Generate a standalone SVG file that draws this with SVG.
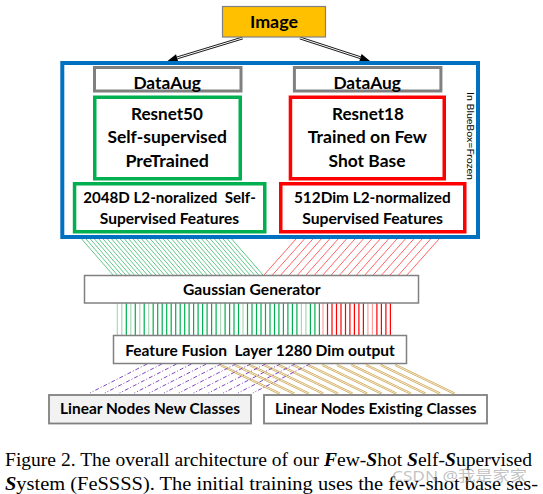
<svg xmlns="http://www.w3.org/2000/svg" width="543" height="494" viewBox="0 0 543 494">
<style>
.t{font-family:Lato,"Liberation Sans",sans-serif;font-weight:bold;fill:#000;text-anchor:middle}
.big{font-size:17px}
.mid{font-size:15px}
.gbox{fill:#fff;stroke:#808080;stroke-width:3}
.thin{fill:#fff;stroke:#808080;stroke-width:1.5}
.cap{font-family:"Liberation Serif","Times New Roman",serif;font-size:18.7px;fill:#000}
.bi{font-weight:bold;font-style:italic}
.gh{fill:none;stroke:#2fb562;stroke-width:0.9;stroke-opacity:0.85}
.rh{fill:none;stroke:#ff3030;stroke-width:1;stroke-opacity:0.75}
.gv{stroke:#00B050;stroke-width:1.2}
.gl{stroke:#A8DAB5;stroke-width:1.2}
.rv{stroke:#FF0000;stroke-width:1.2}
.rl{stroke:#FFA0A0;stroke-width:1.2}
.pu{fill:none;stroke:#7F45C0;stroke-width:1;stroke-dasharray:4 2 1 2}
.tan{fill:none;stroke:#C9A043;stroke-width:0.8}
.ar{stroke:#000;stroke-width:0.9}
</style>
<g id="connectors">
  <line class="ar" x1="242.9" y1="38.9" x2="177.4" y2="58.8"/>
  <line class="ar" x1="242.3" y1="37.1" x2="176.8" y2="57.0"/>
  <polygon points="167.5,61 178.3,61.8 176,54.2" fill="#000"/>
  <line class="ar" x1="299.7" y1="38.9" x2="360.2" y2="58.6"/>
  <line class="ar" x1="300.3" y1="37.1" x2="360.8" y2="56.8"/>
  <polygon points="370,61 359.2,61.6 361.6,54" fill="#000"/>
  <path class="gh" d="M81.7,239l31.3,36M86,239l31.3,36M90.3,239l31.3,36M94.6,239l31.3,36M98.8,239l31.3,36M103.1,239l31.3,36M107.4,239l31.3,36M111.7,239l31.3,36M116,239l31.3,36M120.3,239l31.3,36M124.6,239l31.3,36M128.8,239l31.3,36M133.1,239l31.3,36M137.4,239l31.3,36M141.7,239l31.3,36M146,239l31.3,36M150.3,239l31.3,36M154.6,239l31.3,36M158.8,239l31.3,36M163.1,239l31.3,36M167.4,239l31.3,36M171.7,239l31.3,36M176,239l31.3,36M180.3,239l31.3,36M184.6,239l31.3,36M188.8,239l31.3,36M193.1,239l31.3,36M197.4,239l31.3,36M201.7,239l31.3,36M206,239l31.3,36M210.3,239l31.3,36M214.6,239l31.3,36M218.8,239l31.3,36M223.1,239l31.3,36M227.4,239l31.3,36M231.7,239l31.3,36"/>
  <path class="rh" d="M296,239l-32,36M304.4,239l-32,36M312.8,239l-32,36M321.2,239l-32,36M329.6,239l-32,36M338.1,239l-32,36M346.5,239l-32,36M354.9,239l-32,36M363.3,239l-32,36M371.7,239l-32,36M380.1,239l-32,36M388.5,239l-32,36M396.9,239l-32,36M405.3,239l-32,36M413.7,239l-32,36M422.1,239l-32,36M430.6,239l-32,36M439,239l-32,36"/>
  <path class="gl" d="M117.3,303v32M121.8,303v32M130.8,303v32M139.8,303v32M148.7,303v32M220.6,303v32M243,303v32M301.4,303v32M305.9,303v32"/>
  <path class="gv" d="M126.3,303v32M135.3,303v32M144.2,303v32M153.2,303v32M157.7,303v32M162.2,303v32M166.7,303v32M171.2,303v32M175.7,303v32M180.2,303v32M184.7,303v32M189.1,303v32M193.6,303v32M198.1,303v32M202.6,303v32M207.1,303v32M211.6,303v32M216.1,303v32M225.1,303v32M229.6,303v32M234,303v32M238.5,303v32M247.5,303v32M252,303v32M256.5,303v32M261,303v32M265.5,303v32M270,303v32M274.5,303v32M278.9,303v32M283.4,303v32M287.9,303v32M292.4,303v32M296.9,303v32M310.4,303v32M314.9,303v32M319.4,303v32"/>
  <path class="rl" d="M323,303v32M367.9,303v32M372.4,303v32"/>
  <path class="rv" d="M327.5,303v32M332,303v32M336.5,303v32M341,303v32M345.5,303v32M349.9,303v32M354.4,303v32M358.9,303v32M363.4,303v32M376.9,303v32M381.4,303v32M385.9,303v32M390.4,303v32"/>
  <path class="tan" d="M220,364l60,29M234.6,364l60,29M249.2,364l60,29M263.7,364l60,29M278.3,364l60,29M292.9,364l60,29M307.5,364l60,29M322.1,364l60,29M336.7,364l60,29M351.2,364l60,29M365.8,364l60,29M380.4,364l60,29M395,364l60,29"/>
  <path class="tan" d="M220,365.6l60,29M234.6,365.6l60,29M249.2,365.6l60,29M263.7,365.6l60,29M278.3,365.6l60,29M292.9,365.6l60,29M307.5,365.6l60,29M322.1,365.6l60,29M336.7,365.6l60,29M351.2,365.6l60,29M365.8,365.6l60,29M380.4,365.6l60,29M395,365.6l60,29"/>
  <path class="pu" d="M147,364l-57,29M161.8,364l-57,29M176.6,364l-57,29M191.4,364l-57,29M206.2,364l-57,29M221,364l-57,29M235.8,364l-57,29M250.6,364l-57,29M265.4,364l-57,29M280.2,364l-57,29M295,364l-57,29M309.8,364l-57,29"/>
</g>
<g id="image">
  <rect x="222.5" y="6.5" width="103" height="30.5" fill="#FFC000" stroke="#808080" stroke-width="1.2"/>
  <text class="t big" x="274" y="28" textLength="48" lengthAdjust="spacingAndGlyphs">Image</text>
</g>
<g id="frozen-box">
  <rect x="62.3" y="63" width="415.7" height="174" fill="none" stroke="#0070C0" stroke-width="4"/>
  <text x="466.5" y="92" transform="rotate(90 466.5 92)" font-family="Lato,'Liberation Sans',sans-serif" font-size="10.3" fill="#000" textLength="88" lengthAdjust="spacingAndGlyphs">In BlueBox=Frozen</text>
</g>
<g id="dataaug-left">
  <rect class="gbox" x="94.5" y="67.5" width="146.5" height="23.5"/>
  <text class="t big" x="167.2" y="88.5" textLength="67.6" lengthAdjust="spacingAndGlyphs">DataAug</text>
</g>
<g id="dataaug-right">
  <rect class="gbox" x="294.4" y="67.5" width="146.5" height="23.5"/>
  <text class="t big" x="367.2" y="88.5" textLength="67.6" lengthAdjust="spacingAndGlyphs">DataAug</text>
</g>
<g id="resnet50">
  <rect x="94.75" y="97.25" width="145.5" height="81.5" fill="#fff" stroke="#00B050" stroke-width="3.5"/>
  <text class="t big" x="167" y="119.5" textLength="71.8" lengthAdjust="spacingAndGlyphs">Resnet50</text>
  <text class="t big" x="167.2" y="143" textLength="119.5" lengthAdjust="spacingAndGlyphs">Self-supervised</text>
  <text class="t big" x="167.2" y="166.5" textLength="83.5" lengthAdjust="spacingAndGlyphs">PreTrained</text>
</g>
<g id="resnet18">
  <rect x="290.45" y="97.25" width="153.8" height="81.5" fill="#fff" stroke="#FF0000" stroke-width="3.5"/>
  <text class="t big" x="368" y="119.5" textLength="71.8" lengthAdjust="spacingAndGlyphs">Resnet18</text>
  <text class="t big" x="367.4" y="143" textLength="119.2" lengthAdjust="spacingAndGlyphs">Trained on Few</text>
  <text class="t big" x="367" y="166.5" textLength="77" lengthAdjust="spacingAndGlyphs">Shot Base</text>
</g>
<g id="feat-ssl">
  <rect x="74.55" y="183.75" width="190.2" height="48" fill="#fff" stroke="#00B050" stroke-width="3.5"/>
  <text class="t mid" x="169.5" y="203" textLength="172.6" lengthAdjust="spacingAndGlyphs">2048D L2-noralized&#160; Self-</text>
  <text class="t mid" x="169.5" y="223.5" textLength="139.4" lengthAdjust="spacingAndGlyphs">Supervised Features</text>
</g>
<g id="feat-sup">
  <rect x="280.75" y="183.75" width="184" height="48" fill="#fff" stroke="#FF0000" stroke-width="3.5"/>
  <text class="t mid" x="372.3" y="203" textLength="156.7" lengthAdjust="spacingAndGlyphs">512Dim L2-normalized</text>
  <text class="t mid" x="372.6" y="223.5" textLength="140.7" lengthAdjust="spacingAndGlyphs">Supervised Features</text>
</g>
<g id="gaussian">
  <rect class="thin" x="84.5" y="275.5" width="334" height="27.5"/>
  <text class="t mid" x="251.8" y="294.5" textLength="137.6" lengthAdjust="spacingAndGlyphs">Gaussian Generator</text>
</g>
<g id="fusion">
  <rect class="thin" x="113.5" y="335.5" width="293" height="28"/>
  <text class="t mid" x="260" y="355.5" textLength="269.6" lengthAdjust="spacingAndGlyphs">Feature Fusion&#160; Layer 1280 Dim output</text>
</g>
<g id="linear-new">
  <rect x="49" y="395" width="202" height="28.5" fill="#F2F2F2" stroke="#808080" stroke-width="1.8"/>
  <text class="t mid" x="150" y="414" textLength="180" lengthAdjust="spacingAndGlyphs">Linear Nodes New Classes</text>
</g>
<g id="linear-existing">
  <rect x="264" y="395" width="223" height="28.5" fill="#fff" stroke="#808080" stroke-width="1.8"/>
  <text class="t mid" x="375.8" y="414" textLength="201.7" lengthAdjust="spacingAndGlyphs">Linear Nodes Existing Classes</text>
</g>
<g id="caption">
  <text class="cap" x="5" y="466" textLength="527" lengthAdjust="spacingAndGlyphs">Figure 2. The overall architecture of our <tspan class="bi">F</tspan>ew-<tspan class="bi">S</tspan>hot <tspan class="bi">S</tspan>elf-<tspan class="bi">S</tspan>upervised</text>
  <text class="cap" x="5" y="490" textLength="533" lengthAdjust="spacingAndGlyphs"><tspan class="bi">S</tspan>ystem (FeSSSS). The initial training uses the few-shot base ses-</text>
  <text x="392" y="481" font-family="'Noto Sans','Noto Sans CJK SC',sans-serif" font-size="15" fill="#999" fill-opacity="0.6" textLength="135" lengthAdjust="spacingAndGlyphs">CSDN @我是家家</text>
</g>
</svg>
